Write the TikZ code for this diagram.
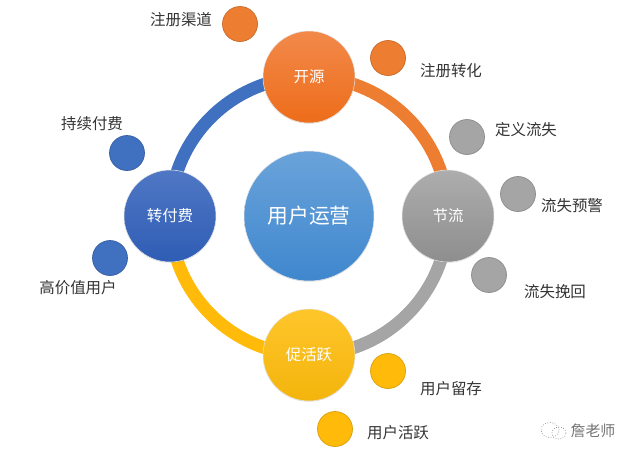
\documentclass[tikz,border=0pt]{standalone}
\usepackage{fontspec}
\setmainfont{Noto Sans CJK SC}
\usetikzlibrary{backgrounds}
\usetikzlibrary{shadows}
\usetikzlibrary{shapes.geometric}
\definecolor{blueA}{HTML}{4F77C4}
\definecolor{blueB}{HTML}{2F5DB5}
\definecolor{blueC}{HTML}{4070C0}
\definecolor{orangeA}{HTML}{F2894A}
\definecolor{orangeB}{HTML}{ED6D1A}
\definecolor{orangeC}{HTML}{ED7D31}
\definecolor{grayA}{HTML}{ADADAD}
\definecolor{grayB}{HTML}{8E8E8E}
\definecolor{grayC}{HTML}{A5A5A5}
\definecolor{yellowA}{HTML}{FFC62B}
\definecolor{yellowB}{HTML}{F3B40C}
\definecolor{yellowC}{HTML}{FFBA0A}
\definecolor{midA}{HTML}{6AA3DA}
\definecolor{midB}{HTML}{3F87CE}
\tikzset{
	ball/.style={circle, inner sep=0pt, minimum size=1.84cm, text=white, font=\fontsize{8.8}{10}\selectfont,
		draw=black!10, line width=0.3pt,
		drop shadow={shadow xshift=0pt, shadow yshift=-0.4pt, opacity=0.25}},
	dot/.style={circle, inner sep=0pt, minimum size=0.7cm, draw=#1!85!black, fill=#1, line width=0.4pt},
	tag/.style={text=black!80, font=\fontsize{8.8}{10}\selectfont, inner sep=0pt},
	ringarc/.style={line width=0.255cm, line cap=butt},
	mark text/.style={text=black!55, font=\fontsize{8.5}{10}\selectfont, inner sep=0pt},
	chatbubble/.style={ellipse, inner sep=0pt, draw=black!45, densely dotted, line width=0.4pt}
}
\begin{document}
\begin{tikzpicture}[x=0.02cm, y=-0.02cm]
	\useasboundingbox (0,0) rectangle (635,458);
	% centre and the four big circles
	\node[ball, minimum size=2.6cm, top color=midA, bottom color=midB, font=\fontsize{11.8}{13}\selectfont] (center) at (309,216) {用户运营};
	\node[ball, top color=orangeA, bottom color=orangeB] (kaiyuan) at (309,77) {开源};
	\node[ball, top color=grayA, bottom color=grayB] (jieliu) at (448,216) {节流};
	\node[ball, top color=yellowA, bottom color=yellowB] (cuhuo) at (309,355) {促活跃};
	\node[ball, top color=blueA, bottom color=blueB] (zhuan) at (170,216) {转付费};
	% ring behind them
	\begin{scope}[on background layer]
		\draw[ringarc, color=blueC] (zhuan.center) to[out=90, in=180] (kaiyuan.center);
		\draw[ringarc, color=orangeC] (kaiyuan.center) to[out=0, in=90] (jieliu.center);
		\draw[ringarc, color=grayC] (jieliu.center) to[out=-90, in=0] (cuhuo.center);
		\draw[ringarc, color=yellowC] (cuhuo.center) to[out=180, in=-90] (zhuan.center);
	\end{scope}
	% small circles
	\node[dot=orangeC] (qudao) at (240,24) {};
	\node[dot=orangeC] (zhuanhua) at (388,58) {};
	\node[dot=grayC] (dingyi) at (467,137) {};
	\node[dot=grayC] (yujing) at (518,194) {};
	\node[dot=grayC] (wanhui) at (489,275) {};
	\node[dot=yellowC] (liucun) at (388,371) {};
	\node[dot=yellowC] (huoyue) at (335,429) {};
	\node[dot=blueC] (chixu) at (127,153) {};
	\node[dot=blueC] (gaojia) at (110,258) {};
	% their labels
	\node[tag] at (181,20) {注册渠道};
	\node[tag] at (451,71) {注册转化};
	\node[tag] at (526,130) {定义流失};
	\node[tag] at (572,206) {流失预警};
	\node[tag] at (555,292) {流失挽回};
	\node[tag] at (451,389) {用户留存};
	\node[tag] at (398,433) {用户活跃};
	\node[tag] at (92,124) {持续付费};
	\node[tag] at (78,288) {高价值用户};
	% watermark
	\node[chatbubble, minimum width=0.36cm, minimum height=0.3cm] (bubbleA) at (550,430) {};
	\node[chatbubble, minimum width=0.28cm, minimum height=0.24cm] (bubbleB) at (559,433) {};
	\node[mark text] (mark) at (593,431) {詹老师};
\end{tikzpicture}
\end{document}
